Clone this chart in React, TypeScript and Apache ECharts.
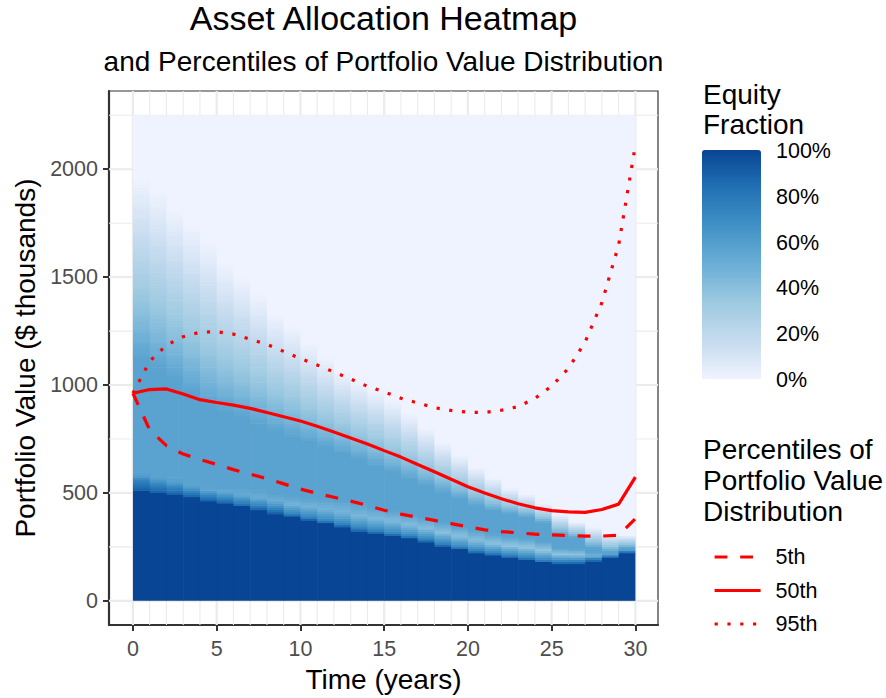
import React, { useEffect, useRef } from "react";
import * as echarts from "echarts";

const FONT = "'Liberation Sans', Arial, Helvetica, sans-serif";

// ---- percentile lines (years 0..30, $ thousands) ----
const YEARS = [0, 1, 2, 3, 4, 5, 6, 7, 8, 9, 10, 11, 12, 13, 14, 15, 16, 17, 18, 19, 20, 21, 22, 23, 24, 25, 26, 27, 28, 29, 30];
const P5 = [962, 792, 719, 680, 655, 632, 608, 587, 566, 542, 518, 498, 480, 462, 442, 420, 402, 387, 373, 358, 343, 329, 321, 315, 309, 306, 303, 300, 300, 304, 381];
const P50 = [962, 979, 982, 958, 932, 919, 907, 892, 873, 853, 833, 809, 782, 755, 727, 696, 666, 632, 598, 563, 529, 500, 473, 450, 431, 418, 412, 410, 423, 448, 573];
const P95 = [962, 1110, 1185, 1224, 1245, 1247, 1236, 1212, 1188, 1156, 1123, 1093, 1060, 1028, 994, 968, 939, 917, 895, 882, 874, 873, 883, 900, 938, 995, 1077, 1199, 1382, 1649, 2112];

// ---- heatmap columns (one per year, spanning [t, t+1]) ----
const COLUMNS = [0, 1, 2, 3, 4, 5, 6, 7, 8, 9, 10, 11, 12, 13, 14, 15, 16, 17, 18, 19, 20, 21, 22, 23, 24, 25, 26, 27, 28, 29];
// top of the 100 % equity zone
const FULL = [512, 501, 492, 478, 463, 450, 435, 420, 404, 389, 374, 358, 342, 323, 312, 300, 287, 272, 252, 236, 220, 208, 197, 188, 175, 170, 171, 182, 195, 218];
// width of the dark edge just above it
const EDGE = [50, 40, 35, 30, 25, 25, 25, 25, 25, 15, 15, 15, 15, 15, 15, 15, 15, 15, 15, 15, 15, 15, 15, 15, 15, 15, 15, 15, 15, 15];
// equity fraction in the band just above the dark edge
const BAND = [0.62, 0.6, 0.58, 0.56, 0.55, 0.54, 0.52, 0.5, 0.5, 0.48, 0.48, 0.47, 0.46, 0.45, 0.44, 0.43, 0.42, 0.41, 0.4, 0.4, 0.4, 0.39, 0.38, 0.37, 0.36, 0.38, 0.38, 0.42, 0.45, 0.5];
// medium plateau (about 57 %) lower and upper limit
const MED_LO = [590, 580, 570, 555, 540, 530, 520, 510, 500, 490, 480, 472, 465, 450, 435, 420, 400, 385, 365, 345, 325, 310, 298, 290, 275, 245, 240, 220, 215, 240];
const MED_HI = [1120, 1070, 1020, 960, 900, 870, 840, 810, 780, 755, 730, 705, 680, 650, 620, 590, 560, 530, 500, 470, 440, 415, 400, 385, 360, 305, 290, 245, 225, 244];
// value where the fraction has faded to 0 %
const FADE = [1957, 1896, 1819, 1742, 1665, 1570, 1500, 1420, 1330, 1270, 1195, 1127, 1065, 1017, 978, 930, 868, 800, 735, 675, 618, 570, 523, 493, 450, 401, 366, 340, 312, 304];
const PLATEAU = 0.57;
const FADE_SHAPE_S = [0, 0.25, 0.5, 0.75, 1];
const FADE_SHAPE_F = [0.57, 0.4, 0.26, 0.12, 0];
const HEAT_TOP = 2250;
const BIN = 10;

// ---- axes ----
const X_MIN = -1.43;
const X_MAX = 31.35;
const Y_MIN = -112.5;
const Y_MAX = 2362.5;
const X_TICKS = [0, 5, 10, 15, 20, 25, 30];
const X_MINOR = [1, 2, 3, 4, 6, 7, 8, 9, 11, 12, 13, 14, 16, 17, 18, 19, 21, 22, 23, 24, 26, 27, 28, 29];
const Y_TICKS = [0, 500, 1000, 1500, 2000];
const Y_MINOR = [250, 750, 1250, 1750, 2250];

// ---- colour legend ----
const BLUES = ["#EFF3FF", "#C6DBEF", "#9ECAE1", "#6BAED6", "#4292C6", "#2171B5", "#084594"];
const CB_FRACTIONS = [1, 0.8, 0.6, 0.4, 0.2, 0];
const CB_LABELS = ["100%", "80%", "60%", "40%", "20%", "0%"];
const CB_LEFT = 702;
const CB_TOP = 150;
const CB_W = 59;
const CB_H = 229;

function interp(xs: number[], ys: number[], x: number) {
  if (x <= xs[0]) return ys[0];
  for (let i = 1; i < xs.length; i++) {
    if (x <= xs[i]) {
      const d = xs[i] - xs[i - 1];
      if (d <= 0) return ys[i];
      return ys[i - 1] + ((ys[i] - ys[i - 1]) * (x - xs[i - 1])) / d;
    }
  }
  return ys[ys.length - 1];
}

function equityFraction(c: number, v: number) {
  const f = FULL[c];
  if (v <= f) return 1;
  if (v >= FADE[c]) return 0;
  const e = f + EDGE[c];
  const mid = (e + MED_LO[c]) / 2;
  const hi = MED_HI[c];
  const xs = [f, e, mid, MED_LO[c], hi, ...FADE_SHAPE_S.slice(1).map((s) => hi + s * (FADE[c] - hi))];
  const ys = [0.9, 0.72, BAND[c], PLATEAU, PLATEAU, ...FADE_SHAPE_F.slice(1)];
  return interp(xs, ys, v);
}

function buildCells() {
  const cells: number[][] = [];
  COLUMNS.forEach((c) => {
    let start = 0;
    let cur = -1;
    for (let lo = 0; lo < HEAT_TOP; lo += BIN) {
      const fr = Math.round(equityFraction(c, lo + BIN / 2) * 1000) / 1000;
      if (cur < 0) {
        cur = fr;
        start = lo;
        continue;
      }
      if (fr !== cur) {
        cells.push([c, c + 1, start, lo, cur]);
        start = lo;
        cur = fr;
      }
    }
    cells.push([c, c + 1, start, HEAT_TOP, cur]);
  });
  return cells;
}

function buildGridLines() {
  const out: number[][] = [];
  X_TICKS.forEach((v) => out.push([0, v, 1]));
  X_MINOR.forEach((v) => out.push([0, v, 0]));
  Y_TICKS.forEach((v) => out.push([1, v, 1]));
  Y_MINOR.forEach((v) => out.push([1, v, 0]));
  return out;
}

export default function App() {
  const ref = useRef<HTMLDivElement>(null);
  useEffect(() => {
    if (!ref.current) return;
    const chart = echarts.init(ref.current, undefined, { renderer: "svg" });
    const tickStyle = { color: "#4D4D4D", fontSize: 21.5, fontFamily: FONT, formatter: (v: number) => String(v) };
    const titleText = (text: string, x: number, y: number, size: number) => ({
      type: "text",
      x,
      y,
      silent: true,
      style: { text, fontSize: size, fontFamily: FONT, fill: "#000", textAlign: "left", textVerticalAlign: "middle" },
    });
    const option: any = {
      animation: false,
      backgroundColor: "#fff",
      title: [
        {
          text: "Asset Allocation Heatmap",
          left: 383.5,
          top: 1,
          padding: 0,
          textAlign: "center",
          textStyle: { fontFamily: FONT, fontSize: 34, fontWeight: "normal", color: "#000" },
        },
        {
          text: "and Percentiles of Portfolio Value Distribution",
          left: 383.5,
          top: 47,
          padding: 0,
          textAlign: "center",
          textStyle: { fontFamily: FONT, fontSize: 28, fontWeight: "normal", color: "#000" },
        },
      ],
      grid: {
        left: 109,
        right: 228,
        top: 91,
        bottom: 70,
        show: true,
        backgroundColor: "#fff",
        borderColor: "#333333",
        borderWidth: 1.2,
        containLabel: false,
      },
      xAxis: {
        type: "value",
        min: X_MIN,
        max: X_MAX,
        name: "Time (years)",
        nameLocation: "middle",
        nameGap: 36,
        nameTextStyle: { fontFamily: FONT, fontSize: 28, color: "#000" },
        axisLine: { show: true, onZero: false, lineStyle: { color: "#333333", width: 2.2 } },
        axisTick: { show: true, length: 6, lineStyle: { color: "#333333", width: 2 }, customValues: X_TICKS },
        axisLabel: { ...tickStyle, margin: 13, customValues: X_TICKS },
        splitLine: { show: false },
      },
      yAxis: {
        type: "value",
        min: Y_MIN,
        max: Y_MAX,
        name: "Portfolio Value ($ thousands)",
        nameLocation: "middle",
        nameGap: 70,
        nameTextStyle: { fontFamily: FONT, fontSize: 28, color: "#000" },
        axisLine: { show: true, onZero: false, lineStyle: { color: "#333333", width: 2.2 } },
        axisTick: { show: true, length: 6, lineStyle: { color: "#333333", width: 2 }, customValues: Y_TICKS },
        axisLabel: { ...tickStyle, margin: 11, customValues: Y_TICKS },
        splitLine: { show: false },
      },
      visualMap: {
        type: "continuous",
        min: 0,
        max: 1,
        dimension: 4,
        seriesIndex: 1,
        orient: "vertical",
        left: CB_LEFT,
        top: CB_TOP,
        itemWidth: CB_W,
        itemHeight: CB_H,
        padding: 0,
        calculable: false,
        hoverLink: false,
        inRange: { color: BLUES },
      },
      legend: {
        orient: "vertical",
        left: 708,
        top: 541,
        itemWidth: 46,
        itemHeight: 14,
        itemGap: 11.5,
        selectedMode: false,
        itemStyle: { color: "transparent", borderColor: "transparent", borderWidth: 0 },
        textStyle: { fontFamily: FONT, fontSize: 21.5, color: "#000", padding: [0, 0, 0, 10] },
        data: [
          { name: "5th", lineStyle: { color: "#FF0000", width: 3.2, type: [12.8, 12.8] } },
          { name: "50th", lineStyle: { color: "#FF0000", width: 3.2, type: "solid" } },
          { name: "95th", lineStyle: { color: "#FF0000", width: 3.2, type: [3.2, 9.6] } },
        ],
      },
      graphic: [
        titleText("Equity", 703, 94, 28),
        titleText("Fraction", 703, 124, 28),
        titleText("Percentiles of", 703, 449, 28),
        titleText("Portfolio Value", 703, 480, 28),
        titleText("Distribution", 703, 511, 28),
        ...CB_FRACTIONS.map((f, i) => ({
          type: "text",
          x: 776,
          y: CB_TOP + (1 - f) * CB_H + 1,
          silent: true,
          style: { text: CB_LABELS[i], fontSize: 21.5, fontFamily: FONT, fill: "#000", textAlign: "left", textVerticalAlign: "middle" },
        })),
      ],
      series: [
        {
          name: "grid",
          type: "custom",
          silent: true,
          z: 1,
          data: buildGridLines(),
          renderItem: (_p: any, api: any) => {
            const o = api.value(0);
            const val = api.value(1);
            const major = api.value(2);
            const p0 = o === 0 ? api.coord([val, Y_MIN]) : api.coord([X_MIN, val]);
            const p1 = o === 0 ? api.coord([val, Y_MAX]) : api.coord([X_MAX, val]);
            return {
              type: "line",
              shape: { x1: p0[0], y1: p0[1], x2: p1[0], y2: p1[1] },
              style: { stroke: "#EBEBEB", lineWidth: major ? 2.2 : 1.1 },
            };
          },
        },
        {
          name: "Equity Fraction",
          type: "custom",
          silent: true,
          z: 2,
          encode: { x: [0, 1], y: [2, 3] },
          data: buildCells(),
          renderItem: (_p: any, api: any) => {
            const x0 = api.value(0);
            const x1 = api.value(1);
            const y0 = api.value(2);
            const y1 = api.value(3);
            const a = api.coord([x0, y1]);
            const b = api.coord([x1, y0]);
            const ex = x1 < 30 ? 0.6 : 0;
            const ey = y1 < HEAT_TOP ? 0.6 : 0;
            return {
              type: "rect",
              shape: { x: a[0], y: a[1] - ey, width: b[0] - a[0] + ex, height: b[1] - a[1] + ey },
              style: { fill: api.visual("color") },
            };
          },
        },
        {
          name: "5th",
          type: "line",
          z: 3,
          symbol: "none",
          showSymbol: false,
          data: YEARS.map((t, i) => [t, P5[i]]),
          lineStyle: { color: "#FF0000", width: 3.2, type: [12.8, 12.8] },
          itemStyle: { color: "#FF0000" },
        },
        {
          name: "50th",
          type: "line",
          z: 3,
          symbol: "none",
          showSymbol: false,
          data: YEARS.map((t, i) => [t, P50[i]]),
          lineStyle: { color: "#FF0000", width: 3.2, type: "solid" },
          itemStyle: { color: "#FF0000" },
        },
        {
          name: "95th",
          type: "line",
          z: 3,
          symbol: "none",
          showSymbol: false,
          data: YEARS.map((t, i) => [t, P95[i]]),
          lineStyle: { color: "#FF0000", width: 3.2, type: [3.2, 9.6] },
          itemStyle: { color: "#FF0000" },
        },
      ],
    };
    chart.setOption(option);
    return () => chart.dispose();
  }, []);
  return <div ref={ref} style={{ position: "fixed", left: 0, top: 0, width: 886, height: 698, background: "#fff" }} />;
}
